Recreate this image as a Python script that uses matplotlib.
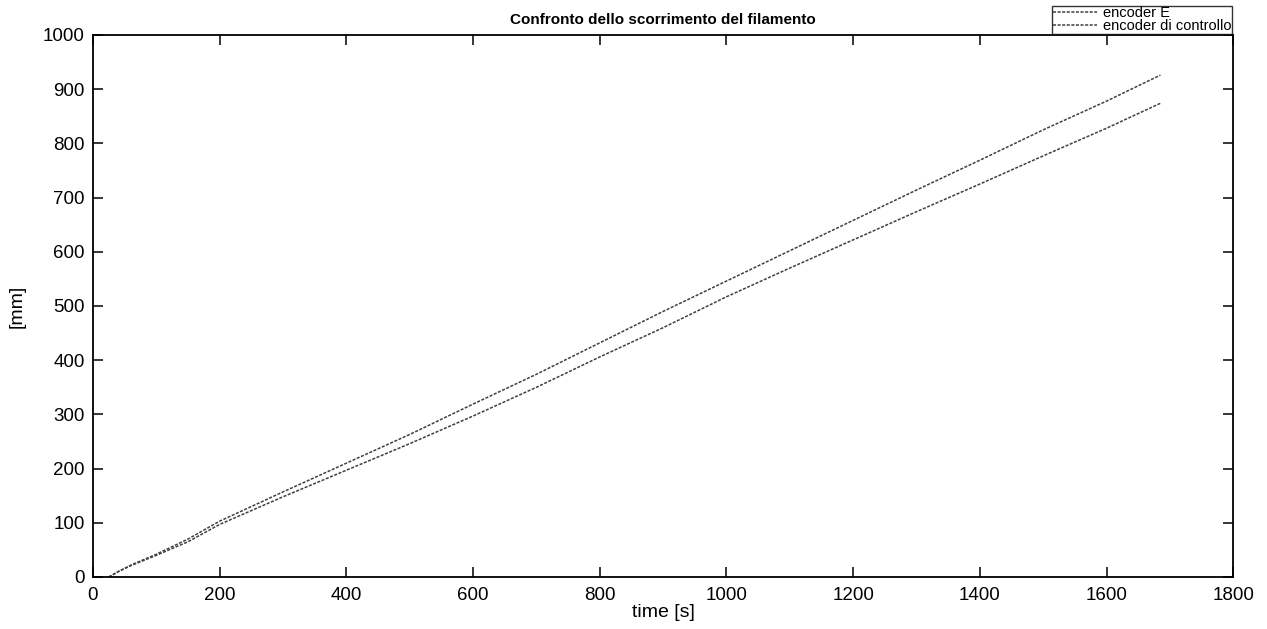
import matplotlib
matplotlib.use("Agg")
import matplotlib.pyplot as plt

plt.rcParams['font.family'] = ['Liberation Sans', 'DejaVu Sans']

# valori
t_e = [25, 40, 60, 100, 150, 200, 300, 400, 500, 600, 700, 800, 900,
       1000, 1100, 1200, 1300, 1400, 1500, 1600, 1685]
enc_e = [0, 10, 22, 42, 70, 103, 157, 210, 263, 319, 374, 432, 490,
         546, 602, 658, 714, 769, 825, 878, 926]

t_c = [25, 40, 60, 100, 150, 200, 300, 400, 500, 600, 700, 800, 900,
       1000, 1100, 1200, 1300, 1400, 1500, 1600, 1685]
enc_c = [0, 10, 21, 40, 65, 97, 148, 197, 246, 297, 350, 406, 460,
         517, 570, 622, 674, 725, 777, 828, 874]

xticks = [0, 200, 400, 600, 800, 1000, 1200, 1400, 1600, 1800]
yticks = [0, 100, 200, 300, 400, 500, 600, 700, 800, 900, 1000]

fig = plt.figure(figsize=(12.67, 6.29), dpi=100)
ax = fig.add_axes([0.0734, 0.0827, 0.9, 0.8617])

ax.plot(t_e, enc_e, color='0.25', lw=1.1, ls=(0, (2, 1)), label='encoder E')
ax.plot(t_c, enc_c, color='0.25', lw=1.1, ls=(0, (2, 1)), label='encoder di controllo')

ax.set_xlim(0, 1800)
ax.set_ylim(0, 1000)
ax.set_xticks(xticks)
ax.set_yticks(yticks)
ax.tick_params(direction='in', top=True, right=True, labelsize=13.5, length=7, width=1.1)
ax.tick_params(axis='x', pad=7)
ax.tick_params(axis='y', pad=6)
for s in ax.spines.values():
    s.set_linewidth(1.3)

ax.set_title('Confronto dello scorrimento del filamento', fontsize=11, fontweight='bold', pad=8)
ax.set_xlabel('time [s]', fontsize=14, labelpad=0)
ax.set_ylabel('[mm]', fontsize=14, labelpad=12)

leg = ax.legend(loc='lower right', bbox_to_anchor=(1.0, 1.0), fontsize=10.5,
                frameon=True, fancybox=False, edgecolor='black', handlelength=3.0,
                borderpad=0.05, labelspacing=-0.1, handletextpad=0.4, borderaxespad=0.1)
leg.get_frame().set_linewidth(1.0)

fig.savefig('out.png', dpi=100)
